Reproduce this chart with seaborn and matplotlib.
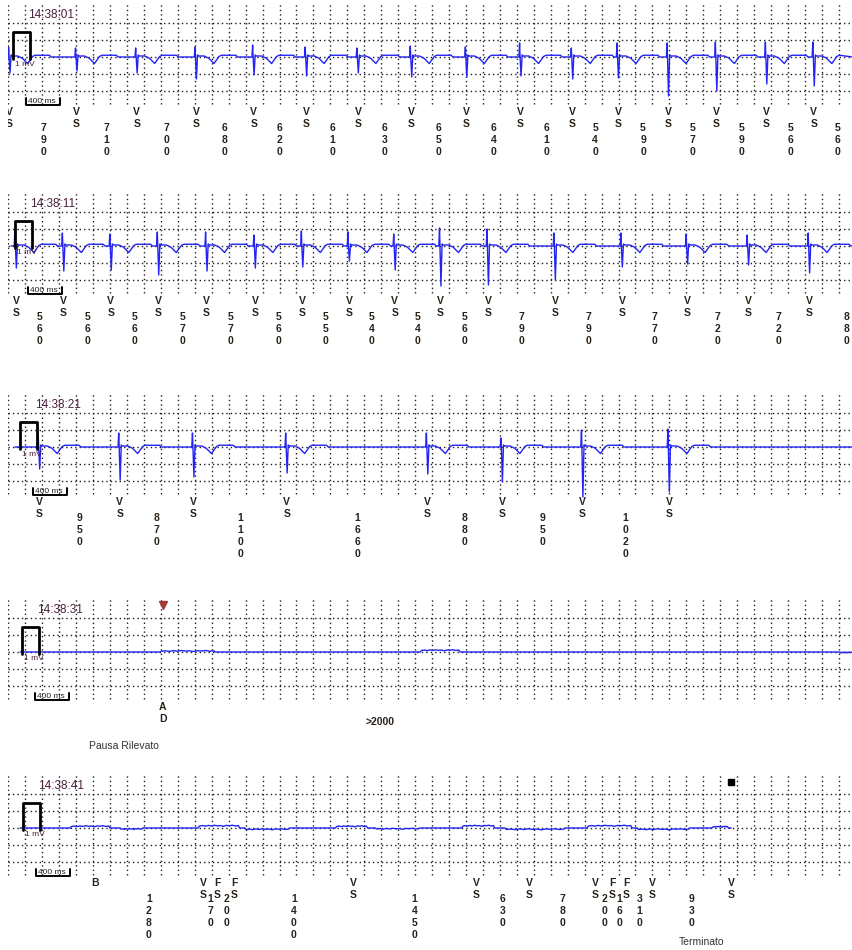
import numpy as np
import pandas as pd
import seaborn as sns
from matplotlib import pyplot as plt

timestamps = ["14:38:01", "14:38:11", "14:38:21", "14:38:31", "14:38:41"]

s1_first = 15
s1_intervals = [790, 710, 700, 680, 620, 610, 630, 650, 640, 610, 540, 590, 570, 590, 560, 560]
s1_r = [0.40, 0.36, 0.36, 0.40, 0.48, 0.40, 0.36, 0.44, 0.40, 0.56, 0.36, 0.56, 0.56, 0.60, 0.60, 0.60, 0.60]
s1_s = [0.64, 0.56, 0.64, 0.88, 0.72, 0.76, 0.64, 0.80, 0.80, 0.76, 0.88, 0.84, 1.56, 1.36, 1.08, 1.16, 1.00]

s2_first = 90
s2_intervals = [560, 560, 560, 570, 570, 560, 550, 540, 540, 560, 790, 790, 770, 720, 720, 880]
s2_r = [0.68, 0.52, 0.48, 0.56, 0.56, 0.44, 0.60, 0.56, 0.48, 0.72, 0.68, 0.52, 0.52, 0.48, 0.44, 0.52, 0.52]
s2_s = [0.88, 1.00, 0.96, 1.16, 1.00, 0.88, 0.84, 0.60, 0.96, 1.60, 1.56, 1.36, 0.84, 0.72, 0.76, 1.08, 1.00]

s3_first = 365
s3_intervals = [950, 870, 1100, 1660, 880, 950, 1020]
s3_r = [0.48, 0.56, 0.56, 0.56, 0.56, 0.36, 0.68, 0.72]
s3_s = [0.88, 1.32, 1.20, 1.04, 1.08, 1.40, 2.00, 1.80]

pause_onset = 1825
pause_value = ">2000"
s4_seg_start = [1790, 4860, 9800]
s4_seg_end = [2440, 5330, 9960]
s4_seg_level = [0.03, 0.06, -0.03]

s5_first = 1020
s5_markers = ["B", "VS", "FS", "FS", "VS", "VS", "VS", "VS", "FS", "FS", "VS", "VS"]
s5_intervals = [1280, 170, 200, 1400, 1450, 630, 780, 200, 160, 310, 930]
s5_seg_start = [730, 1320, 2240, 2790, 3860, 4330, 5350, 5860, 6830, 7420, 8300]
s5_seg_end = [1200, 1590, 2730, 3320, 4240, 4860, 5740, 6570, 7360, 8040, 8500]
s5_seg_level = [0.06, -0.05, 0.08, -0.06, 0.06, -0.04, 0.08, -0.06, 0.08, -0.06, 0.04]

# beat shape (ms from marker) and small baseline jitter
qrs_dt = [-40, -20, -12, -7, 5, 18, 30, 95, 150, 212, 271, 300, 470, 490]
wiggle = [0.0, 0.03, -0.01, 0.04, 0.0, 0.05, 0.01, 0.03, -0.02, 0.04, 0.02, 0.05, 0.0, 0.03]

# ---- layout
W, H = 853, 950
PX_PER_MV = 25.0
PX_PER_MS = 0.08475
X0 = 8.3
T_END = (W - X0) / PX_PER_MS
base_px = [57, 246, 447, 652, 828]
pulse_px = [13, 15, 20, 22, 23]
trace_start = [0, 32, 79, 138, 138]
BLUE = "#2323f5"
INK = "#2a2118"
DARK = "#4a1f3c"
GRID = "#1e1e1e"

sns.set_style("white")
plt.rcParams["font.family"] = ["Liberation Sans", "DejaVu Sans"]


def mv(px_below):
    return -px_below / PX_PER_MV


def ms(px):
    return (px - X0) / PX_PER_MS


def beat_times(first, intervals):
    return first + np.concatenate([[0], np.cumsum(intervals)])


def ecg_trace(start, end, beats=(), r=(), s=(), seg_start=(), seg_end=(), seg_level=()):
    pts = []
    for t0, rr, ss in zip(beats, r, s):
        vals = [0, 0, rr, 0.04, -ss, 0.08, 0.04, 0.04, -0.05, -0.26, 0.02, 0.07, 0.07, 0]
        pts += [(t0 + d, v) for d, v in zip(qrs_dt, vals)]
    for a, b, lev in zip(seg_start, seg_end, seg_level):
        xs = np.linspace(a + 15, b - 15, len(wiggle))
        pts += [(a, 0.0)] + [(x, lev + 0.6 * w) for x, w in zip(xs, wiggle)] + [(b, 0.0)]
    pts = sorted(p for p in pts if start <= p[0] <= end)
    if not pts or pts[0][0] > start:
        pts = [(start, 0.0)] + pts
    if pts[-1][0] < end:
        pts.append((end, 0.0))
    return pd.DataFrame(pts, columns=["t", "mv"])


def strip_axes(i):
    base = base_px[i]
    top = max(0, base - 62)
    bottom = min(H, base + 122)
    ax = fig.add_axes([X0 / W, 1 - bottom / H, (W - X0) / W, (bottom - top) / H])
    ax.set_xlim(0, T_END)
    ax.set_ylim(mv(bottom - base), mv(top - base))
    ax.axis("off")
    # dotted grid: 200 ms columns, 5 rows
    ax.vlines(np.arange(0, T_END, 200), mv(47), mv(-55), colors=GRID,
              linestyles=(0, (1, 2.2)), linewidth=1.0)
    ax.hlines([mv(-34), mv(-17), 0, mv(17), mv(34)], 0, T_END, colors=GRID,
              linestyles=(0, (1, 2.2)), linewidth=1.0)
    # calibration pulse, time bar, timestamp
    L = ms(pulse_px[i])
    ax.plot([L, L, L + 200, L + 200], [-0.08, 1, 1, -0.08], color="black", lw=2.0, zorder=3)
    ax.text(L + 140, mv(7), "1 mV", fontsize=6, color=DARK, ha="center", va="center", zorder=4)
    a, b = L + 150, L + 550
    ax.plot([a, a, b, b], [mv(41), mv(48), mv(48), mv(41)], color="black", lw=1.4)
    ax.text((a + b) / 2 - 15, mv(44.5), "400 ms", fontsize=6, color="#222222", ha="center", va="center")
    ax.text(L + 175, mv(-42), timestamps[i], fontsize=8.5, color=DARK, ha="left", va="center")
    return ax


def draw_markers(ax, times, labels):
    for t, lab in zip(times, labels):
        if t > T_END:
            continue
        for k, ch in enumerate(lab):
            ax.text(t, mv(55 + 12 * k), ch, ha="center", va="center", fontsize=7.5,
                    fontweight="bold", color=INK, clip_on=True)


def draw_intervals(ax, times, intervals):
    for t0, t1, val in zip(times[:-1], times[1:], intervals):
        mid = (t0 + t1) / 2
        if mid > T_END - 30:
            continue
        for k, ch in enumerate(str(val)):
            ax.text(mid, mv(71 + 12 * k), ch, ha="center", va="center", fontsize=7.5,
                    fontweight="bold", color=INK, clip_on=True)


def draw_trace(ax, df):
    sns.lineplot(data=df, x="t", y="mv", sort=False, estimator=None, color=BLUE,
                 linewidth=1.0, ax=ax, zorder=2)
    ax.set_xlabel("")
    ax.set_ylabel("")


fig = plt.figure(figsize=(W / 100, H / 100), dpi=100)

strips = [(s1_first, s1_intervals, s1_r, s1_s),
          (s2_first, s2_intervals, s2_r, s2_s),
          (s3_first, s3_intervals, s3_r, s3_s)]
for i, (first, intervals, r, s) in enumerate(strips):
    ax = strip_axes(i)
    beats = beat_times(first, intervals)
    draw_trace(ax, ecg_trace(trace_start[i], T_END, beats, r, s))
    draw_markers(ax, beats, ["VS"] * len(beats))
    draw_intervals(ax, beats, intervals)

# strip 4: pause
ax = strip_axes(3)
draw_trace(ax, ecg_trace(trace_start[3], T_END, seg_start=s4_seg_start,
                         seg_end=s4_seg_end, seg_level=s4_seg_level))
ax.plot(pause_onset, mv(-47), marker="v", ms=6, color="#a03a3a", clip_on=False)
draw_markers(ax, [pause_onset], ["AD"])
ax.text(ms(380), mv(70), pause_value, ha="center", va="center", fontsize=7.5,
        fontweight="bold", color=INK)
ax.text(ms(124), mv(94), "Pausa Rilevato", ha="center", va="center", fontsize=7.5, color="#333333")

# strip 5: end of episode
ax = strip_axes(4)
marks5 = beat_times(s5_first, s5_intervals)
draw_trace(ax, ecg_trace(trace_start[4], marks5[-1], seg_start=s5_seg_start,
                         seg_end=s5_seg_end, seg_level=s5_seg_level))
draw_markers(ax, marks5, s5_markers)
draw_intervals(ax, marks5, s5_intervals)
ax.plot(marks5[-1], mv(-46), marker="s", ms=5, color="black", clip_on=False)
ax.text(ms(702), mv(114), "Terminato", ha="center", va="center", fontsize=7.5, color="#333333")

fig.savefig("out.png", dpi=100)
